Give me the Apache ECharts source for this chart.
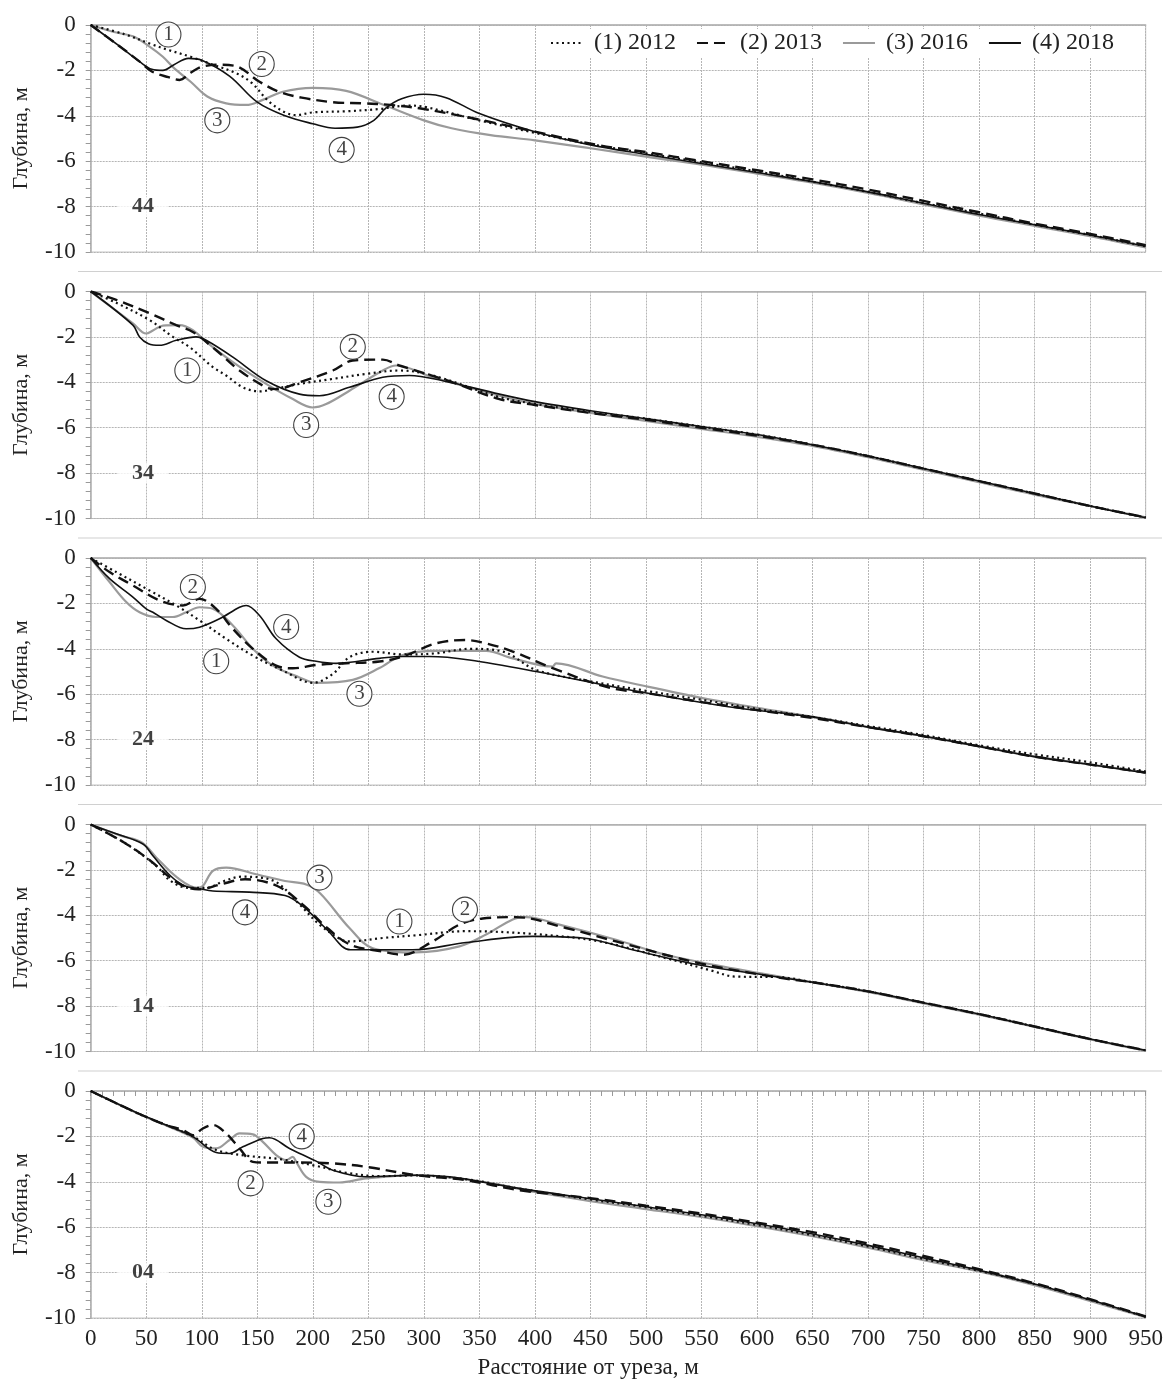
<!DOCTYPE html>
<html>
<head>
<meta charset="utf-8">
<script src="https://cdn.jsdelivr.net/npm/echarts@6/dist/echarts.min.js"></script>
<style>
  html, body { margin: 0; padding: 0; background: #fff; }
  #chart { width: 1166px; height: 1383px; }
</style>
</head>
<body>
<div id="chart"></div>
<script>
// profile numbers, top to bottom
const profiles = ['44', '34', '24', '14', '04']
const seriesNames = ['(1) 2012', '(2) 2013', '(3) 2016', '(4) 2018']
const yTicks = [0, -2, -4, -6, -8, -10]

// [distance, depth]
const p44_2012 = [[0,0],[30,-0.4],[55,-0.85],[70,-1.1],[90,-1.4],[110,-1.75],[130,-2.1],[145,-2.55],[160,-3.35],[175,-3.85],[185,-3.97],[200,-3.85],[230,-3.8],[260,-3.7],[285,-3.55],[300,-3.6],[350,-4.2],[400,-4.75],[450,-5.25],[500,-5.65],[550,-6.05],[600,-6.45],[650,-6.9],[700,-7.35],[750,-7.85],[800,-8.3],[850,-8.8],[900,-9.25],[950,-9.75]]
const p44_2013 = [[0,0],[25,-0.9],[45,-1.65],[55,-2.05],[70,-2.3],[80,-2.42],[90,-2.1],[100,-1.84],[115,-1.75],[130,-1.8],[152,-2.5],[170,-2.95],[190,-3.2],[218,-3.4],[245,-3.45],[270,-3.52],[300,-3.7],[353,-4.2],[400,-4.7],[458,-5.3],[500,-5.6],[550,-6.0],[600,-6.4],[650,-6.8],[700,-7.25],[750,-7.75],[800,-8.25],[850,-8.75],[900,-9.2],[950,-9.7]]
const p44_2016 = [[0,0],[20,-0.3],[38,-0.5],[53,-0.95],[65,-1.4],[75,-1.9],[90,-2.5],[105,-3.15],[122,-3.45],[140,-3.52],[155,-3.3],[173,-2.94],[200,-2.77],[230,-2.9],[263,-3.5],[300,-4.2],[325,-4.55],[360,-4.85],[400,-5.08],[450,-5.43],[500,-5.8],[550,-6.15],[600,-6.55],[650,-6.95],[700,-7.4],[750,-7.9],[800,-8.4],[850,-8.85],[900,-9.3],[950,-9.8]]
const p44_2018 = [[0,0],[25,-0.9],[45,-1.65],[55,-1.95],[65,-2.0],[75,-1.75],[88,-1.47],[100,-1.55],[125,-2.25],[150,-3.4],[175,-4.0],[200,-4.35],[220,-4.55],[240,-4.5],[255,-4.2],[266,-3.65],[280,-3.25],[300,-3.05],[320,-3.2],[350,-3.9],[400,-4.7],[450,-5.28],[500,-5.7],[550,-6.1],[600,-6.5],[650,-6.9],[700,-7.35],[750,-7.85],[800,-8.35],[850,-8.8],[900,-9.25],[950,-9.75]]

const p34_2012 = [[0,0],[23,-0.5],[53,-1.26],[74,-2.0],[89,-2.45],[110,-3.33],[122,-3.7],[137,-4.22],[152,-4.4],[165,-4.3],[188,-4.07],[218,-3.85],[248,-3.63],[278,-3.48],[308,-3.7],[368,-4.65],[400,-4.95],[450,-5.3],[500,-5.6],[550,-5.95],[600,-6.3],[650,-6.75],[700,-7.25],[750,-7.8],[800,-8.35],[850,-8.9],[900,-9.45],[950,-9.95]]
const p34_2013 = [[0,0],[23,-0.37],[53,-0.96],[77,-1.48],[92,-1.78],[113,-2.59],[134,-3.48],[158,-4.22],[167,-4.3],[188,-4.0],[218,-3.48],[236,-3.04],[263,-3.0],[278,-3.26],[323,-3.95],[368,-4.74],[400,-5.0],[450,-5.35],[500,-5.65],[550,-6.0],[600,-6.35],[650,-6.75],[700,-7.25],[750,-7.8],[800,-8.35],[850,-8.9],[900,-9.45],[950,-9.95]]
const p34_2016 = [[0,0],[38,-1.4],[50,-1.85],[56,-1.72],[65,-1.5],[80,-1.48],[92,-1.7],[104,-2.22],[128,-3.11],[158,-4.07],[182,-4.74],[200,-5.11],[212,-4.96],[233,-4.37],[263,-3.48],[275,-3.26],[308,-3.78],[368,-4.59],[400,-4.95],[450,-5.35],[500,-5.7],[550,-6.05],[600,-6.4],[650,-6.8],[700,-7.3],[750,-7.85],[800,-8.4],[850,-8.95],[900,-9.45],[950,-9.95]]
const p34_2018 = [[0,0],[38,-1.48],[44,-2.0],[52,-2.3],[62,-2.37],[77,-2.15],[95,-2.0],[104,-2.15],[128,-2.89],[158,-3.93],[188,-4.52],[206,-4.59],[233,-4.22],[263,-3.78],[287,-3.7],[317,-3.93],[368,-4.52],[400,-4.85],[450,-5.25],[500,-5.6],[550,-5.95],[600,-6.3],[650,-6.75],[700,-7.25],[750,-7.8],[800,-8.35],[850,-8.9],[900,-9.45],[950,-9.97]]

const p24_2012 = [[0,0],[23,-0.62],[53,-1.43],[77,-2.09],[98,-2.75],[122,-3.56],[146,-4.3],[173,-4.96],[200,-5.5],[218,-5.11],[233,-4.37],[254,-4.13],[281,-4.25],[311,-4.2],[341,-4.0],[371,-4.12],[401,-4.93],[451,-5.44],[500,-5.85],[551,-6.25],[600,-6.65],[650,-7.0],[700,-7.4],[750,-7.8],[800,-8.25],[850,-8.65],[900,-9.0],[950,-9.4]]
const p24_2013 = [[0,0],[17,-0.62],[38,-1.21],[62,-1.87],[83,-2.09],[98,-1.8],[113,-2.24],[128,-3.12],[146,-4.0],[167,-4.74],[182,-4.86],[203,-4.71],[230,-4.64],[260,-4.56],[281,-4.34],[311,-3.76],[337,-3.61],[356,-3.76],[380,-4.12],[416,-4.85],[466,-5.7],[500,-5.95],[551,-6.35],[600,-6.7],[650,-7.05],[700,-7.45],[750,-7.85],[800,-8.3],[850,-8.75],[900,-9.1],[950,-9.45]]
const p24_2016 = [[0,0],[17,-1.06],[32,-1.94],[44,-2.39],[59,-2.6],[74,-2.6],[86,-2.39],[98,-2.17],[110,-2.24],[128,-2.97],[146,-4.0],[164,-4.74],[188,-5.26],[203,-5.5],[236,-5.37],[260,-4.85],[281,-4.27],[311,-4.09],[356,-4.09],[380,-4.42],[416,-4.78],[419,-4.64],[461,-5.22],[500,-5.65],[551,-6.17],[600,-6.6],[650,-7.0],[700,-7.45],[750,-7.85],[800,-8.3],[850,-8.75],[900,-9.1],[950,-9.45]]
const p24_2018 = [[0,0],[17,-0.91],[38,-1.72],[50,-2.24],[56,-2.39],[68,-2.75],[86,-3.12],[98,-3.05],[116,-2.68],[134,-2.17],[140,-2.09],[152,-2.53],[167,-3.56],[188,-4.37],[203,-4.55],[221,-4.64],[260,-4.42],[281,-4.34],[305,-4.34],[341,-4.49],[401,-5.0],[476,-5.73],[530,-6.2],[581,-6.6],[650,-7.0],[700,-7.45],[750,-7.85],[800,-8.3],[850,-8.75],[900,-9.1],[950,-9.47]]

const p14_2012 = [[0,0],[30,-0.79],[59,-1.82],[72,-2.49],[88,-2.79],[104,-2.79],[120,-2.49],[136,-2.3],[165,-2.49],[188,-3.52],[206,-4.41],[226,-5.08],[233,-5.15],[263,-5.0],[293,-4.88],[338,-4.7],[398,-4.82],[458,-5.15],[518,-5.89],[560,-6.45],[580,-6.7],[620,-6.72],[650,-6.95],[700,-7.35],[750,-7.85],[800,-8.35],[850,-8.9],[900,-9.45],[950,-9.95]]
const p14_2013 = [[0,0],[30,-0.79],[52,-1.53],[78,-2.56],[97,-2.86],[117,-2.64],[139,-2.41],[168,-2.71],[191,-3.53],[213,-4.56],[234,-5.3],[263,-5.6],[281,-5.74],[308,-5.15],[332,-4.41],[353,-4.14],[383,-4.08],[428,-4.56],[473,-5.15],[549,-6.12],[624,-6.78],[650,-6.95],[700,-7.35],[750,-7.85],[800,-8.35],[850,-8.9],[900,-9.45],[950,-9.95]]
const p14_2016 = [[0,0],[27,-0.49],[46,-0.79],[59,-1.45],[78,-2.34],[96,-2.79],[101,-2.71],[110,-2.04],[122,-1.9],[149,-2.19],[175,-2.49],[194,-2.64],[207,-3.05],[233,-4.56],[254,-5.45],[293,-5.63],[332,-5.37],[356,-4.85],[380,-4.18],[392,-4.08],[422,-4.41],[473,-5.08],[518,-5.74],[578,-6.34],[650,-6.95],[700,-7.38],[750,-7.88],[800,-8.38],[850,-8.92],[900,-9.47],[950,-9.97]]
const p14_2018 = [[0,0],[23,-0.41],[47,-0.86],[56,-1.38],[72,-2.27],[85,-2.71],[98,-2.83],[110,-2.93],[143,-2.98],[175,-3.13],[191,-3.6],[213,-4.64],[234,-5.52],[290,-5.52],[338,-5.2],[398,-4.93],[443,-5.0],[488,-5.52],[548,-6.19],[608,-6.64],[650,-6.95],[700,-7.35],[750,-7.85],[800,-8.35],[850,-8.9],[900,-9.45],[950,-9.95]]

const p04_2012 = [[0,0],[43,-1.0],[68,-1.5],[92,-2.0],[113,-2.6],[140,-2.85],[170,-3.0],[203,-3.3],[230,-3.6],[260,-3.75],[293,-3.72],[340,-3.9],[386,-4.3],[450,-4.78],[500,-5.12],[550,-5.5],[600,-5.9],[650,-6.35],[700,-6.85],[750,-7.4],[800,-7.92],[850,-8.5],[900,-9.2],[950,-9.95]]
const p04_2013 = [[0,0],[43,-0.99],[68,-1.5],[83,-1.72],[92,-1.95],[101,-1.65],[110,-1.5],[122,-1.87],[134,-2.53],[146,-3.12],[158,-3.15],[188,-3.15],[218,-3.19],[248,-3.34],[293,-3.71],[338,-3.93],[386,-4.37],[450,-4.72],[500,-5.05],[550,-5.4],[600,-5.8],[650,-6.22],[700,-6.72],[750,-7.27],[800,-7.85],[850,-8.47],[900,-9.17],[950,-9.93]]
const p04_2016 = [[0,0],[43,-1.0],[68,-1.52],[92,-2.05],[101,-2.46],[113,-2.53],[125,-2.16],[134,-1.87],[146,-1.91],[155,-2.24],[167,-2.82],[176,-3.04],[182,-2.9],[185,-3.12],[194,-3.78],[206,-4.0],[224,-4.03],[248,-3.85],[293,-3.71],[353,-4.0],[400,-4.45],[450,-4.85],[500,-5.2],[550,-5.55],[600,-5.95],[650,-6.4],[700,-6.9],[750,-7.45],[800,-7.95],[850,-8.55],[900,-9.25],[950,-9.97]]
const p04_2018 = [[0,0],[43,-0.99],[68,-1.5],[92,-2.01],[113,-2.71],[125,-2.75],[137,-2.46],[155,-2.09],[161,-2.06],[179,-2.53],[203,-3.09],[218,-3.49],[248,-3.78],[293,-3.71],[323,-3.78],[386,-4.29],[450,-4.75],[500,-5.1],[550,-5.45],[600,-5.85],[650,-6.3],[700,-6.8],[750,-7.35],[800,-7.9],[850,-8.5],[900,-9.2],[950,-9.95]]

// circled curve numbers [distance, depth, number]
const marks44 = [[70,-0.42,'1'],[154,-1.72,'2'],[114,-4.2,'3'],[226,-5.5,'4']]
const marks34 = [[236,-2.44,'2'],[87,-3.48,'1'],[194,-5.88,'3'],[271,-4.64,'4']]
const marks24 = [[92,-1.28,'2'],[113,-4.55,'1'],[176,-3.04,'4'],[242,-5.98,'3']]
const marks14 = [[206,-2.34,'3'],[139,-3.87,'4'],[278,-4.27,'1'],[337,-3.75,'2']]
const marks04 = [[190,-2.0,'4'],[144,-4.07,'2'],[214,-4.88,'3']]

const panelData = [
  [p44_2012, p44_2013, p44_2016, p44_2018],
  [p34_2012, p34_2013, p34_2016, p34_2018],
  [p24_2012, p24_2013, p24_2016, p24_2018],
  [p14_2012, p14_2013, p14_2016, p14_2018],
  [p04_2012, p04_2013, p04_2016, p04_2018],
]
const panelMarks = [marks44, marks34, marks24, marks14, marks04]

const FONT = 'Liberation Serif'
const TOP0 = 25
const STEP = 266.5
const H = 227

// line looks for 2012, 2013, 2016, 2018
const looks = [
  { color: '#111', width: 2.2, type: [2, 3.5], z: 3 },
  { color: '#111', width: 2.4, type: [11, 6], z: 4 },
  { color: '#9a9a9a', width: 2.2, type: 'solid', z: 2 },
  { color: '#111', width: 1.6, type: 'solid', z: 5 },
]

const grid = []
const xAxis = []
const yAxis = []
const series = []
const graphic = []

profiles.forEach((name, i) => {
  const last = i === profiles.length - 1
  grid.push({
    left: 90.7, right: 20.3, top: TOP0 + STEP * i, height: H,
    show: true, borderColor: '#c4c4c4', borderWidth: 1,
  })
  xAxis.push({
    type: 'value', gridIndex: i, min: 0, max: 950, interval: 50,
    axisLine: { show: true, lineStyle: { color: '#b0b0b0', width: 1.5 } },
    axisTick: { show: last, length: 5, lineStyle: { color: '#999' } },
    minorTick: { show: last, splitNumber: 5, length: 5, lineStyle: { color: '#999' } },
    axisLabel: { show: last, fontFamily: FONT, fontSize: 23, color: '#222', margin: 9 },
    splitLine: { show: true, lineStyle: { color: '#b5b5b5', type: [2, 1] } },
    name: last ? 'Расстояние от уреза, м' : '',
    nameLocation: 'middle', nameGap: 38,
    nameTextStyle: { fontFamily: FONT, fontSize: 23, color: '#222', padding: [0, 60, 0, 0] },
  })
  yAxis.push({
    type: 'value', gridIndex: i, min: -10, max: 0, interval: 2,
    axisLine: { show: true, lineStyle: { color: '#b0b0b0', width: 1.5 } },
    axisTick: { show: true, length: 5, lineStyle: { color: '#999' } },
    minorTick: { show: true, splitNumber: 5, length: 5, lineStyle: { color: '#999' } },
    axisLabel: { fontFamily: FONT, fontSize: 23, color: '#222', margin: 15 },
    splitLine: { show: true, lineStyle: { color: '#b5b5b5', type: [2, 1] } },
    name: 'Глубина, м', nameLocation: 'middle', nameGap: 58, nameRotate: 90,
    nameTextStyle: { fontFamily: FONT, fontSize: 22, color: '#222' },
  })

  // draw gray first so black lines sit on top
  panelData[i].forEach((data, k) => {
    const lk = looks[k]
    series.push({
      name: seriesNames[k], type: 'line', xAxisIndex: i, yAxisIndex: i,
      data, smooth: 0.35, symbol: 'none', z: lk.z,
      lineStyle: { color: lk.color, width: lk.width, type: lk.type },
      itemStyle: { color: lk.color },
    })
  })

  series.push({
    type: 'scatter', xAxisIndex: i, yAxisIndex: i, silent: true, z: 8,
    data: panelMarks[i], symbol: 'circle', symbolSize: 25,
    itemStyle: { color: '#fff', borderColor: '#111', borderWidth: 1.1 },
    label: {
      show: true, position: 'inside', formatter: (p) => p.value[2],
      fontFamily: FONT, fontSize: 21, color: '#111',
    },
  })

  // profile number on the -8 grid line
  series.push({
    type: 'scatter', xAxisIndex: i, yAxisIndex: i, silent: true, z: 8,
    data: [[47, -8, name]], symbol: 'rect', symbolSize: [50, 20],
    itemStyle: { color: '#fff' },
    label: {
      show: true, position: 'inside', formatter: (p) => p.value[2],
      fontFamily: FONT, fontSize: 22, fontWeight: 'bold', color: '#111',
    },
  })

  if (i > 0) {
    const y = TOP0 + STEP * i - 20
    graphic.push({
      type: 'line', silent: true,
      shape: { x1: 78, y1: y, x2: 1162, y2: y },
      style: { stroke: '#d0d0d0', lineWidth: 1.2 },
    })
  }
})

const chart = echarts.init(document.getElementById('chart'))
chart.setOption({
  animation: false,
  backgroundColor: '#fff',
  grid, xAxis, yAxis, series, graphic,
  legend: {
    data: seriesNames, left: 546, top: 29, itemWidth: 32, itemHeight: 12, itemGap: 20,
    backgroundColor: '#fff', padding: [2, 4],
    itemStyle: { opacity: 0 },
    textStyle: { fontFamily: FONT, fontSize: 24, color: '#222', padding: [0, 0, 0, 6] },
  },
})
</script>
</body>
</html>
